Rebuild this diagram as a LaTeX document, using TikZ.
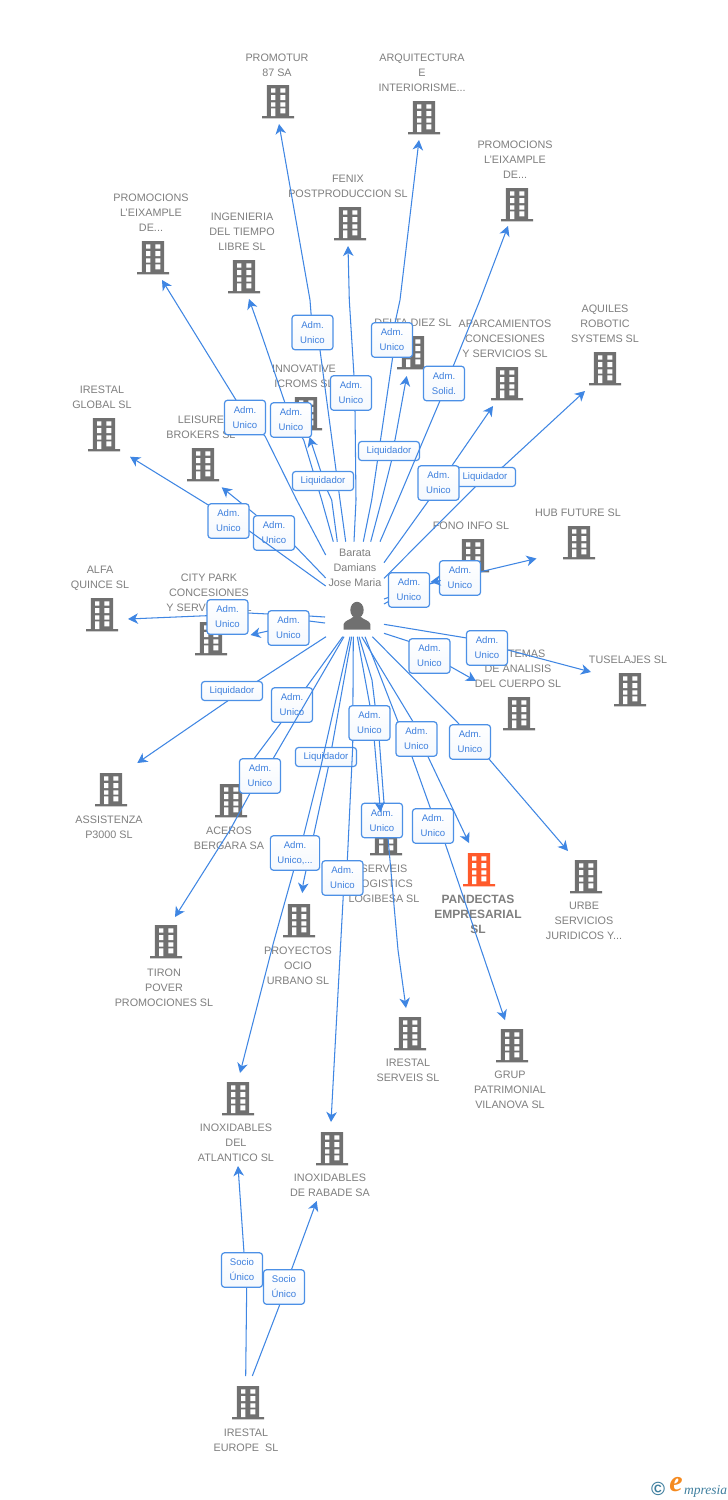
\documentclass[tikz,border=0pt]{standalone}
\usepackage{fontspec}
\setmainfont{Liberation Sans}
\newfontfamily\logoserif{Liberation Serif}
\usetikzlibrary{arrows.meta}
\definecolor{edgeblue}{HTML}{3F86E3}
\definecolor{boxblue}{HTML}{4C90E6}
\definecolor{tagtext}{HTML}{3D7FDD}
\definecolor{labelgray}{HTML}{7F7F7F}
\definecolor{bldgray}{HTML}{707070}
\definecolor{bldorange}{HTML}{FF5A2B}
\definecolor{logoblue}{HTML}{3F7F9F}
\definecolor{logoorange}{HTML}{F58A1F}
\tikzset{
  x=1pt,y=-1pt,
  link/.style={draw=edgeblue,line width=1.05pt,line join=round,-{Stealth[length=10pt,width=10.5pt,inset=3pt]}},
  edgebox/.style={draw=boxblue,line width=1.2pt,rounded corners=3pt,top color=white,bottom color=boxblue!6,
    align=center,text=tagtext,font=\fontsize{9.6}{15}\selectfont,inner xsep=7pt,inner ysep=2.5pt,minimum width=41pt,minimum height=34.5pt},
  liqbox/.style={edgebox,minimum width=61pt,minimum height=19pt,inner ysep=1pt},
  lbl/.style={anchor=north,align=center,inner sep=0pt,text=labelgray,font=\fontsize{10.8}{15}\selectfont},
  lblbold/.style={lbl,font=\fontsize{12}{15}\selectfont\bfseries},
}
\newcommand\bld[4]{% name, x, top y, colour
  \node[inner sep=0pt,minimum width=32pt,minimum height=33.4pt] (#1) at (#2,#3+16.7) {};
  \begin{scope}[shift={(#2,#3)}]
    \fill[#4] (-11.2,0) rectangle (11.2,31) (-16,31) rectangle (16,33.4);
    \fill[white] (-7,3.3) rectangle (-2.7,7.7) (2.3,3.3) rectangle (7.3,7.7)
      (-7,10) rectangle (-2.7,15) (2.3,10) rectangle (7.3,15)
      (-7,17.3) rectangle (-2.7,21.7) (2.3,17.3) rectangle (7.3,21.7)
      (-7,23.3) rectangle (-2.7,31) (2.3,23.3) rectangle (7.3,28.3);
  \end{scope}}
\newcommand\txt[4]{\node[lbl] (#1) at (#2,#3-2.8) {#4};}
\newcommand\lnk[8][edgebox]{% style, name, start, before, label, after, tip, text
  \coordinate (#2s) at (#3);\coordinate (#2) at (#5);\coordinate (#2t) at (#7);
  \draw[link] (#2s) -- #4 (#2) -- #6 (#2t);
  \node[#1] (#2box) at (#2) {#8};}
\begin{document}
\begin{tikzpicture}
\useasboundingbox (0,0) rectangle (728,1500);
\fill[white] (0,0) rectangle (728,1500);
% buildings
\bld{promotur}{278}{85}{bldgray}
\bld{arqui}{424}{101}{bldgray}
\bld{promr}{517}{188}{bldgray}
\bld{fenix}{350}{207}{bldgray}
\bld{proml}{153}{241}{bldgray}
\bld{ingen}{244}{260}{bldgray}
\bld{delta}{413}{336}{bldgray}
\bld{aparc}{507}{367}{bldgray}
\bld{innov}{306}{397}{bldgray}
\bld{aquil}{605}{352}{bldgray}
\bld{irglob}{104}{418}{bldgray}
\bld{leis}{203}{448}{bldgray}
\bld{fono}{473}{539}{bldgray}
\bld{hub}{579}{526}{bldgray}
\bld{alfa}{102}{598}{bldgray}
\bld{city}{211}{622}{bldgray}
\bld{tusel}{630}{673}{bldgray}
\bld{siste}{519}{697}{bldgray}
\bld{assis}{111}{773}{bldgray}
\bld{acero}{231}{784}{bldgray}
\bld{serve}{386}{822}{bldgray}
\bld{pande}{479}{853}{bldorange}
\bld{urbe}{586}{860}{bldgray}
\bld{proye}{299}{904}{bldgray}
\bld{tiron}{166}{925}{bldgray}
\bld{irserv}{410}{1017}{bldgray}
\bld{grup}{512}{1029}{bldgray}
\bld{inoxa}{238}{1082}{bldgray}
\bld{inoxr}{332}{1132}{bldgray}
\bld{ireur}{248}{1386}{bldgray}
% person
\node[inner sep=0pt,minimum width=28pt,minimum height=28pt] (person) at (357,616) {};
\fill[bldgray] (357,610) ellipse (6.7 and 8.2);
\fill[bldgray] (343.5,629.5) -- (343.7,624) .. controls (344.5,620.5) and (350,620) .. (353,617) -- (361,617) .. controls (364,620) and (369.5,620.5) .. (370.3,624) -- (370.5,629.5) -- cycle;
% labels
\txt{tpromotur}{277}{57}{PROMOTUR\\87 SA}
\txt{tarqui}{422}{57}{ARQUITECTURA\\E\\INTERIORISME...}
\txt{tpromr}{515}{144}{PROMOCIONS\\L'EIXAMPLE\\DE...}
\txt{tfenix}{348}{178}{FENIX\\POSTPRODUCCION SL}
\txt{tproml}{151}{197}{PROMOCIONS\\L'EIXAMPLE\\DE...}
\txt{tingen}{242}{216}{INGENIERIA\\DEL TIEMPO\\LIBRE SL}
\txt{tdelta}{413}{322}{DELTA DIEZ SL}
\txt{taparc}{505}{323}{APARCAMIENTOS\\CONCESIONES\\Y SERVICIOS SL}
\txt{tinnov}{304}{368}{INNOVATIVE\\ICROMS SL}
\txt{taquil}{605}{308}{AQUILES\\ROBOTIC\\SYSTEMS SL}
\txt{tirglob}{102}{389}{IRESTAL\\GLOBAL SL}
\txt{tleis}{201}{419}{LEISURE\\BROKERS SL}
\txt{tperson}{355}{552}{Barata\\Damians\\Jose Maria}
\txt{tfono}{471}{525}{FONO INFO SL}
\txt{thub}{578}{512}{HUB FUTURE SL}
\txt{talfa}{100}{569}{ALFA\\QUINCE SL}
\txt{tcity}{209}{577}{CITY PARK\\CONCESIONES\\Y SERVICIOS SL}
\txt{ttusel}{628}{659}{TUSELAJES SL}
\txt{tsiste}{518}{653}{SISTEMAS\\DE ANALISIS\\DEL CUERPO SL}
\txt{tassis}{109}{819}{ASSISTENZA\\P3000 SL}
\txt{tacero}{229}{830}{ACEROS\\BERGARA SA}
\txt{tserve}{384}{868}{SERVEIS\\LOGISTICS\\LOGIBESA SL}
\node[lblbold] (tpande) at (478,894.7) {PANDECTAS\\EMPRESARIAL\\SL};
\txt{turbe}{584}{905}{URBE\\SERVICIOS\\JURIDICOS Y...}
\txt{tproye}{298}{950}{PROYECTOS\\OCIO\\URBANO SL}
\txt{ttiron}{164}{972}{TIRON\\POVER\\PROMOCIONES SL}
\txt{tirserv}{408}{1062}{IRESTAL\\SERVEIS SL}
\txt{tgrup}{510}{1074}{GRUP\\PATRIMONIAL\\VILANOVA SL}
\txt{tinoxa}{236}{1127}{INOXIDABLES\\DEL\\ATLANTICO SL}
\txt{tinoxr}{330}{1177}{INOXIDABLES\\DE RABADE SA}
\txt{tireur}{246}{1432}{IRESTAL\\EUROPE\ \ SL}
% links: top fan
\lnk[liqbox]{laquil}{384,578.3}{}{485,477}{(503,466.7) --}{585,391}{Liquidador}
\lnk{lpromotur}{345.7,541.7}{(340,500) -- (320,350) --}{312.5,332.5}{(310,300) --}{279,124}{Adm.\\Unico}
\lnk{lfenix}{354,541.7}{(356,500) -- (355,410) --}{351,393}{(354,376) -- (349.3,300) --}{348,246}{Adm.\\Unico}
\lnk{larqui}{363.3,541.7}{(371.7,500) -- (392.7,357) --}{392,340}{(395,323) -- (400,300) --}{419,140}{Adm.\\Unico}
\lnk[liqbox]{ldelta}{370.7,541.7}{(381.7,500) -- (391.7,460) --}{389,451}{(395,440) --}{406.7,376}{Liquidador}
\lnk{lpromr}{380,541.7}{(398,500) -- (440,400.7) --}{444,383.5}{(453.3,366) -- (480,300) --}{508,226}{Adm.\\Solid.}
\lnk{lingen}{333.3,541.7}{(321.7,500) -- (303.7,440) --}{291,420}{(285,403) -- (260,330) --}{249,299}{Adm.\\Unico}
\lnk[liqbox]{linnov}{337.3,541.7}{(331.7,500) --}{323,481}{(321,472) --}{309.5,437}{Liquidador}
\lnk{lproml}{325.7,555}{(296.7,500) -- (265,436) --}{245,417.5}{(236,400) --}{162,280}{Adm.\\Unico}
\lnk{laparc}{384,562.7}{(428.3,501) --}{438.5,483}{(451.7,466) --}{493,406}{Adm.\\Unico}
\lnk{lleis}{325.7,578}{(294,545) --}{274,533}{(256,515) --}{221.7,487.3}{Adm.\\Unico}
\lnk{lirglob}{325.7,586}{(248,530) --}{228.5,521}{(208.3,505) --}{130,456.7}{Adm.\\Unico}
% links: right of the person
\lnk{lhub}{384,604}{(409,590) -- (440,581) --}{460,578}{(485,570.7) --}{536.5,558.5}{Adm.\\Unico}
\lnk{lfono}{384,599}{}{409,590}{(440.3,580.5) --}{430.5,582}{Adm.\\Unico}
\lnk{lsiste}{384,633.3}{(410,641.7) --}{429.5,656}{(450.7,666.7) --}{476,681}{Adm.\\Unico}
\lnk{ltusel}{384,624.3}{(466.7,638) --}{487,648}{(508,650) --}{591,672}{Adm.\\Unico}
% links: left of the person
\lnk{lalfa}{325,617}{(309,616) -- (248,613) --}{227.5,617}{(206.7,615.7) --}{128,619}{Adm.\\Unico}
\lnk{lcity}{325,623}{(309,621) --}{288.5,628}{(268,631) --}{250.5,635}{Adm.\\Unico}
\lnk[liqbox]{lassis}{326,636.7}{(256.7,681.7) --}{232,691}{(228,700.7) --}{137.3,763}{Liquidador}
% links: below the person
\lnk{lacero}{342.7,636.7}{(306.7,686.7) --}{292,705}{(281,722.7) -- (254.3,758.3) --}{242,776}{Adm.\\Unico}
\lnk{ltiron}{344,636.7}{(273.3,758.3) --}{260,776}{(250,793.3) -- (230,830) --}{175,917}{Adm.\\Unico}
\lnk[liqbox]{lproye}{351.7,636.7}{(328.3,767.3) --}{326,757}{(328.3,767.3) -- (303.3,883) --}{302.3,893}{Liquidador}
\lnk[edgebox]{linoxa}{350,636.7}{(320.7,767.3) -- (303.3,836.7) --}{295,853}{(293.3,871.7) -- (273.3,943.3) --}{240,1073}{Adm.\\Unico,...}
\lnk{linoxr}{353.3,636.7}{(352.7,746.7) -- (347.3,861) --}{342.5,878}{(343.3,895) --}{331,1122}{Adm.\\Unico}
\lnk{lirserv}{359,636.7}{(372,680) -- (379.3,740.7) -- (384,803) --}{382,820.5}{(388,838) -- (398,950) --}{406,1008}{Adm.\\Unico}
\lnk{lserve}{357.3,636.7}{(370,706) --}{369.5,723}{(374.3,740.7) --}{380.5,812}{Adm.\\Unico}
\lnk{lgrup}{365,636.7}{(398,721.7) -- (412,756.7) -- (430.7,809) --}{433,826}{(445,843) --}{505,1020}{Adm.\\Unico}
\lnk{lpande}{361.7,636.7}{(413,721.7) --}{416.5,739}{(428,756.7) --}{469,843}{Adm.\\Unico}
\lnk{lurbe}{372.3,636.7}{(460,725) --}{470,742}{(489,759) --}{568,851}{Adm.\\Unico}
% links: Irestal Europe
\lnk{lsocia}{245.7,1376}{(246.7,1286.7) --}{242,1270}{(244,1252.7) --}{238,1166}{Socio\\Único}
\lnk{lsocir}{252.3,1376}{(280,1304) --}{284,1287}{(291.7,1269) --}{316.7,1201}{Socio\\Único}
% logo
\node[inner sep=0pt,text=logoblue,font=\bfseries\fontsize{19}{19}\selectfont] (logoc) at (658,1489) {©};
\node[inner sep=0pt,text=logoorange,font=\logoserif\itshape\bfseries\fontsize{30}{30}\selectfont] (logoe) at (676,1485) {e};
\node[inner sep=0pt,anchor=base west,text=logoblue,font=\logoserif\itshape\fontsize{13.5}{13.5}\selectfont] (logot) at (684,1494) {mpresia};
\end{tikzpicture}
\end{document}
